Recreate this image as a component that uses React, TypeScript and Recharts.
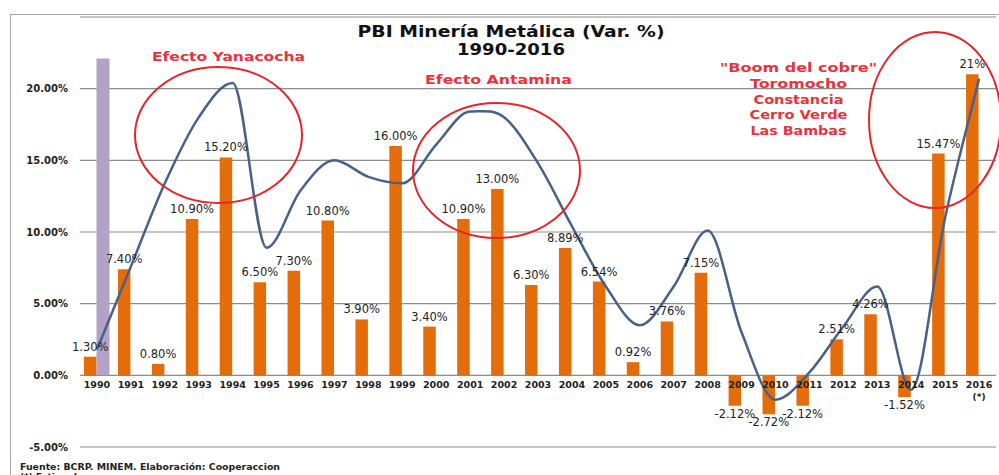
import { Bar, CartesianGrid, ComposedChart, LabelList, Line, XAxis, YAxis } from "recharts";

const years = [
  "1990", "1991", "1992", "1993", "1994", "1995", "1996", "1997", "1998",
  "1999", "2000", "2001", "2002", "2003", "2004", "2005", "2006", "2007",
  "2008", "2009", "2010", "2011", "2012", "2013", "2014", "2015", "2016",
];

// variación % anual del PBI minero metálico
const variacion = [
  1.3, 7.4, 0.8, 10.9, 15.2, 6.5, 7.3, 10.8, 3.9, 16.0, 3.4, 10.9, 13.0, 6.3,
  8.89, 6.54, 0.92, 3.76, 7.15, -2.12, -2.72, -2.12, 2.51, 4.26, -1.52, 15.47, 21,
];

const etiquetas = [
  "1.30%", "7.40%", "0.80%", "10.90%", "15.20%", "6.50%", "7.30%", "10.80%",
  "3.90%", "16.00%", "3.40%", "10.90%", "13.00%", "6.30%", "8.89%", "6.54%",
  "0.92%", "3.76%", "7.15%", "-2.12%", "-2.72%", "-2.12%", "2.51%", "4.26%",
  "-1.52%", "15.47%", "21%",
];

// barra lila solo en 1990
const referencia = [
  22.1, null, null, null, null, null, null, null, null, null, null, null, null,
  null, null, null, null, null, null, null, null, null, null, null, null, null, null,
];

// curva suavizada (tendencia)
const tendencia = [
  1.8, 7.6, 13.4, 18.0, 20.4, 8.9, 12.9, 15.0, 13.85, 13.4, 16.1, 18.4, 18.0,
  14.8, 10.4, 6.2, 3.5, 6.2, 10.1, 3.0, -1.7, 0.2, 3.4, 6.2, -1.0, 11.0, 20.7,
];

const notas: Record<string, string> = { "2016": "(*)" };

const yTicks = [-5, 0, 5, 10, 15, 20];

const data = years.map((year, i) => ({
  year,
  variacion: variacion[i],
  etiqueta: etiquetas[i],
  referencia: referencia[i],
  tendencia: tendencia[i],
}));

const W = 999;
const H = 475;
const TOP = 17;
const X_AXIS_H = 28;
const Y_MIN = -5;
const Y_MAX = 25;
const PLOT_H = H - TOP - X_AXIS_H;
const ZERO_Y = TOP + (PLOT_H * Y_MAX) / (Y_MAX - Y_MIN);

const FONT = "'DejaVu Sans', Verdana, sans-serif";
const RED = "#E8333C";
const ORANGE = "#E46C0A";

// catmull-rom, con tangente plana en los picos y valles (parecido al suavizado de Excel)
const smoothCurve = (context: any) => {
  let pts: number[][] = [];
  return {
    areaStart() {},
    areaEnd() {},
    lineStart() {
      pts = [];
    },
    point(x: number, y: number) {
      pts.push([+x, +y]);
    },
    lineEnd() {
      const n = pts.length;
      if (!n) return;
      context.moveTo(pts[0][0], pts[0][1]);
      if (n === 1) return;
      const m = pts.map((p, i) => {
        if (i === 0) return (pts[1][1] - p[1]) / (pts[1][0] - p[0]);
        if (i === n - 1) return (p[1] - pts[i - 1][1]) / (p[0] - pts[i - 1][0]);
        const d0 = p[1] - pts[i - 1][1];
        const d1 = pts[i + 1][1] - p[1];
        if (d0 * d1 <= 0) return 0;
        return (pts[i + 1][1] - pts[i - 1][1]) / (pts[i + 1][0] - pts[i - 1][0]);
      });
      for (let i = 0; i < n - 1; i++) {
        const [x0, y0] = pts[i];
        const [x1, y1] = pts[i + 1];
        const h = (x1 - x0) / 3;
        context.bezierCurveTo(x0 + h, y0 + m[i] * h, x1 - h, y1 - m[i + 1] * h, x1, y1);
      }
    },
  };
};

const YearTick = (props: any) => {
  const { x, payload } = props;
  const nota = notas[payload.value];
  return (
    <g>
      <text x={x} y={ZERO_Y + 13} textAnchor="middle" fontFamily={FONT} fontSize={9.5} fontWeight="bold" fill="#222">
        {payload.value}
      </text>
      {nota && (
        <text x={x} y={ZERO_Y + 25} textAnchor="middle" fontFamily={FONT} fontSize={9} fontWeight="bold" fill="#222">
          {nota}
        </text>
      )}
    </g>
  );
};

const BarLabel = (props: any) => {
  const vb = props.viewBox ?? props;
  const { x, y, width, height } = vb;
  const text = String(props.value ?? "");
  const top = Math.min(y, y + height);
  const bottom = Math.max(y, y + height);
  const ty = text.startsWith("-") ? bottom + 12 : top - 6;
  return (
    <text x={x + width / 2} y={ty} textAnchor="middle" fontFamily={FONT} fontSize={11.5} fill="#222">
      {text}
    </text>
  );
};

export default function App() {
  return (
    <div style={{ position: "absolute", left: 0, top: 0, width: W, height: H, overflow: "hidden", background: "#fff" }}>
      <div
        style={{
          position: "absolute",
          left: 10,
          top: 14,
          width: 1200,
          height: 800,
          borderTop: "1.5px solid #a6a6a6",
          borderLeft: "1.5px solid #a6a6a6",
        }}
      />
      <div style={{ position: "absolute", left: 0, top: 0 }}>
        <ComposedChart width={W} height={H} data={data} margin={{ top: TOP, right: 3, bottom: 0, left: 0 }} barGap={0}>
          <CartesianGrid vertical={false} stroke="#8c8c8c" strokeWidth={1.2} />
          <XAxis dataKey="year" height={X_AXIS_H} axisLine={false} tickLine={false} tick={<YearTick />} interval={0} />
          <YAxis
            width={80}
            domain={[Y_MIN, Y_MAX]}
            ticks={yTicks}
            axisLine={false}
            tickLine={false}
            tickMargin={6}
            tickFormatter={(v: number) => `${v.toFixed(2)}%`}
            tick={{ fontFamily: FONT, fontSize: 10, fontWeight: "bold", fill: "#222" }}
          />
          <Bar dataKey="variacion" fill={ORANGE} barSize={12.5} isAnimationActive={false}>
            <LabelList dataKey="etiqueta" content={<BarLabel />} />
          </Bar>
          <Bar dataKey="referencia" fill="#B3A2C7" barSize={13} isAnimationActive={false} />
          <Line
            dataKey="tendencia"
            type={smoothCurve as any}
            stroke="#46618A"
            strokeWidth={2.5}
            dot={false}
            activeDot={false}
            isAnimationActive={false}
          />
        </ComposedChart>
      </div>
      <svg width={W} height={H} style={{ position: "absolute", left: 0, top: 0, pointerEvents: "none" }}>
        <text x={511} y={37} textAnchor="middle" fontFamily={FONT} fontSize={15} fontWeight="bold" fill="#111"
          textLength={307} lengthAdjust="spacingAndGlyphs">
          PBI Minería Metálica  (Var. %)
        </text>
        <text x={511} y={55} textAnchor="middle" fontFamily={FONT} fontSize={15} fontWeight="bold" fill="#111"
          textLength={108} lengthAdjust="spacingAndGlyphs">
          1990-2016
        </text>

        <ellipse cx={218.5} cy={135} rx={83.5} ry={68} fill="none" stroke="#E3262B" strokeWidth={2} />
        <ellipse cx={496.5} cy={170.5} rx={83.5} ry={67.5} fill="none" stroke="#E3262B" strokeWidth={2} />
        <ellipse cx={935} cy={120} rx={66} ry={88} fill="none" stroke="#E3262B" strokeWidth={2} />

        <g fontFamily={FONT} fontSize={13} fontWeight="bold" fill={RED} textAnchor="middle">
          <text x={228.5} y={61} textLength={153} lengthAdjust="spacingAndGlyphs">Efecto Yanacocha</text>
          <text x={498.5} y={84} textLength={147} lengthAdjust="spacingAndGlyphs">Efecto Antamina</text>
          <text x={798.5} y={72} textLength={157} lengthAdjust="spacingAndGlyphs">"Boom del cobre"</text>
          <text x={798.5} y={88} textLength={97} lengthAdjust="spacingAndGlyphs">Toromocho</text>
          <text x={798.5} y={103.5} textLength={90} lengthAdjust="spacingAndGlyphs">Constancia</text>
          <text x={798.5} y={119} textLength={98} lengthAdjust="spacingAndGlyphs">Cerro Verde</text>
          <text x={798.5} y={134.5} textLength={96} lengthAdjust="spacingAndGlyphs">Las Bambas</text>
        </g>

        <text x={20} y={470} fontFamily={FONT} fontSize={9} fontWeight="bold" fill="#222" textLength={260} lengthAdjust="spacingAndGlyphs">
          Fuente: BCRP. MINEM. Elaboración: Cooperaccion
        </text>
        <text x={20} y={480} fontFamily={FONT} fontSize={9} fontWeight="bold" fill="#222">
          (*) Estimado
        </text>
      </svg>
    </div>
  );
}
